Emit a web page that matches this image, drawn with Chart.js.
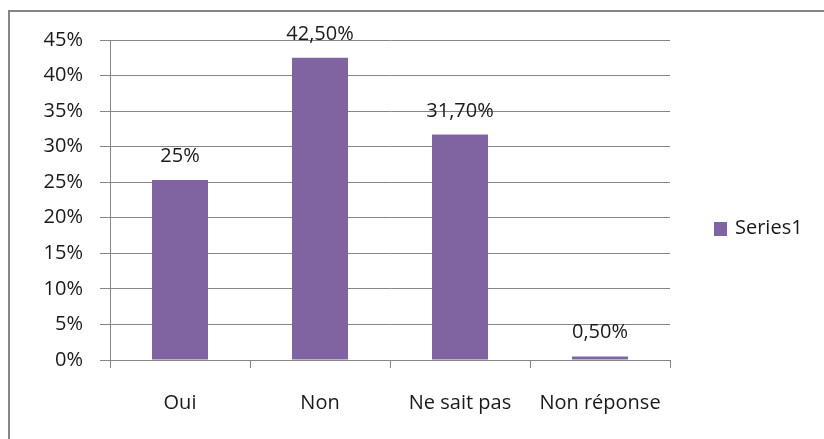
<!DOCTYPE html>
<html lang="fr">
<head>
<meta charset="UTF-8">
<title>Series1</title>
<script src="https://cdn.jsdelivr.net/npm/chart.js@4.4.0/dist/chart.umd.min.js"></script>
<style>
  html, body { margin: 0; padding: 0; overflow: hidden; background: #fff; }
  #frame { position: absolute; left: 8px; top: 10px; width: 2000px; height: 2000px;
           border-left: 2px solid #858585; border-top: 2px solid #858585; }
  #chart { position: absolute; left: 0; top: 0; }
</style>
</head>
<body>
<div id="frame"></div>
<canvas id="chart" width="824" height="439"></canvas>
<script>
// data
const categories = ['Oui', 'Non', 'Ne sait pas', 'Non réponse'];
const values = [25.3, 42.5, 31.7, 0.5];
const valueLabels = ['25%', '42,50%', '31,70%', '0,50%'];
const seriesName = 'Series1';
const yTicks = [0, 5, 10, 15, 20, 25, 30, 35, 40, 45];

const barColor = '#8064A2';
const gridColor = '#868686';
const textColor = '#1a1a1a';
const fontFamily = '"Open Sans", Lato, sans-serif';
const font = { family: fontFamily, size: 20 };

// value labels above bars + legend on the right
const extras = {
    id: 'extras',
    afterDatasetsDraw(chart) {
        const ctx = chart.ctx;
        const meta = chart.getDatasetMeta(0);
        ctx.save();
        ctx.font = font.size + 'px ' + fontFamily;
        ctx.fillStyle = textColor;
        ctx.textAlign = 'center';
        ctx.textBaseline = 'alphabetic';
        meta.data.forEach((bar, i) => {
            ctx.fillText(valueLabels[i], bar.x, bar.y - 18);
        });
        // legend
        const ds = chart.data.datasets[0];
        ctx.fillStyle = ds.backgroundColor;
        ctx.fillRect(714, 222, 13, 14);
        ctx.fillStyle = textColor;
        ctx.textAlign = 'left';
        ctx.textBaseline = 'middle';
        ctx.fillText(ds.label, 735, 228);
        ctx.restore();
    }
};

const ctx = document.getElementById('chart').getContext('2d');
new Chart(ctx, {
    type: 'bar',
    data: {
        labels: categories,
        datasets: [{
            label: seriesName,
            data: values,
            backgroundColor: barColor,
            borderWidth: 0,
            categoryPercentage: 0.8,
            barPercentage: 0.5
        }]
    },
    options: {
        responsive: false,
        animation: false,
        devicePixelRatio: 1,
        layout: { padding: { top: 40, right: 154, left: 0, bottom: 0 } },
        plugins: {
            legend: { display: false },
            tooltip: { enabled: false }
        },
        scales: {
            x: {
                grid: { drawOnChartArea: false, offset: true, tickLength: 8, color: gridColor },
                border: { color: gridColor },
                ticks: { color: textColor, font: font, padding: 23, maxRotation: 0 },
                afterFit(s) { s.height = 79; }
            },
            y: {
                min: 0,
                max: 45,
                afterBuildTicks(s) { s.ticks = yTicks.map(v => ({ value: v })); },
                grid: { color: gridColor, tickLength: 10 },
                border: { color: gridColor },
                ticks: { color: textColor, font: font, padding: 17, callback: v => v + '%' },
                afterFit(s) { s.width = 110; }
            }
        }
    },
    plugins: [extras]
});
</script>
</body>
</html>
